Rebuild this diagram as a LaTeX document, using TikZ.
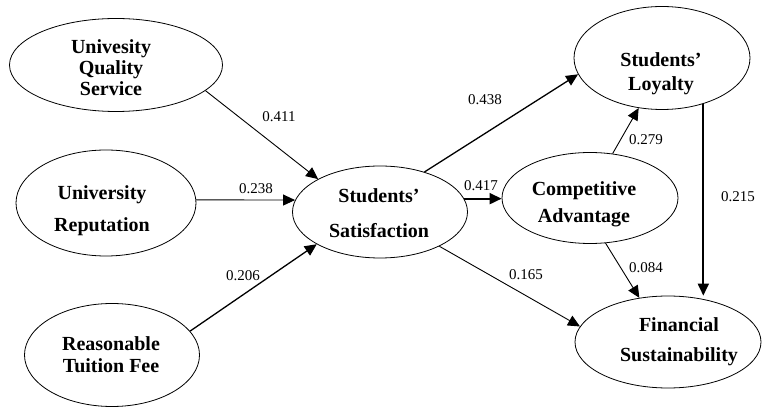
\documentclass[tikz,border=0pt]{standalone}
\usepackage{fontspec}
\setmainfont{Liberation Serif}
\usetikzlibrary{arrows.meta,shapes.geometric}

\begin{document}
\begin{tikzpicture}[x=1pt,y=-1pt,->,>={Triangle[length=12pt,width=11pt]},
                    line width=0.9pt,
                    latent/.style={draw,ellipse,inner sep=0pt,line width=0.8pt},
                    construct/.style={font=\fontsize{20}{22}\selectfont\bfseries,align=center},
                    coef/.style={font=\fontsize{15}{17}\selectfont},
                    medium/.style={line width=1.3pt},
                    heavy/.style={line width=1.8pt}]
  \useasboundingbox (0,0) rectangle (763,411);

  % latent variables
  \node[latent,minimum width=213pt,minimum height=93pt]  (uqs) at (116,65)  {};
  \node[latent,minimum width=180pt,minimum height=106pt] (ur)  at (106,203) {};
  \node[latent,minimum width=175pt,minimum height=103pt] (rtf) at (112,355) {};
  \node[latent,minimum width=175pt,minimum height=92pt]  (ss)  at (380,212) {};
  \node[latent,minimum width=176pt,minimum height=103pt] (sl)  at (662,58)  {};
  \node[latent,minimum width=176pt,minimum height=91pt]  (ca)  at (590,198) {};
  \node[latent,minimum width=186pt,minimum height=92pt]  (fs)  at (668,342) {};

  \node[construct] (uqs-t) at (111,68)  {Univesity\\[-1pt]Quality\\[-1pt]Service};
  \node[construct] (ur-t)  at (102,211) {University\\[10pt]Reputation};
  \node[construct] (rtf-t) at (111,355) {Reasonable\\Tuition Fee};
  \node[construct] (ss-t)  at (379,213) {Students'\\[13pt]Satisfaction};
  \node[construct] (sl-t)  at (661,74)  {Students'\\[2pt]Loyalty};
  \node[construct] (ca-t)  at (584,204) {Competitive\\[5pt]Advantage};
  \node[construct] (fs-t)  at (679,342) {Financial\\[8pt]Sustainability};

  % path coefficients
  \node[coef] (b-uqs) at (279,117) {0.411};
  \node[coef] (b-ur)  at (256,189) {0.238};
  \node[coef] (b-rtf) at (243,276) {0.206};
  \node[coef] (b-sl)  at (485,100) {0.438};
  \node[coef] (b-ca)  at (481,186) {0.417};
  \node[coef] (b-fs)  at (526,275) {0.165};
  \node[coef] (b-csl) at (646,140) {0.279};
  \node[coef] (b-cfs) at (646,268) {0.084};
  \node[coef] (b-lfs) at (738,197) {0.215};

  \path (uqs.-16) edge                (ss.152)
        (ur.2)    edge                (ss.172)
        (rtf.17)  edge [medium]       (ss.207)
        (ss.42)   edge [medium]       (sl.191)
        (ss.9)    edge [heavy]        (ss.9 -| ca.west)
        (ss.-30)  edge                (fs.170)
        (ca.63)   edge                (sl.245)
        (ca.-71)  edge                (fs.123)
        (sl.-48)  edge [heavy]        (sl.-48 |- fs.north);

\end{tikzpicture}
\end{document}
